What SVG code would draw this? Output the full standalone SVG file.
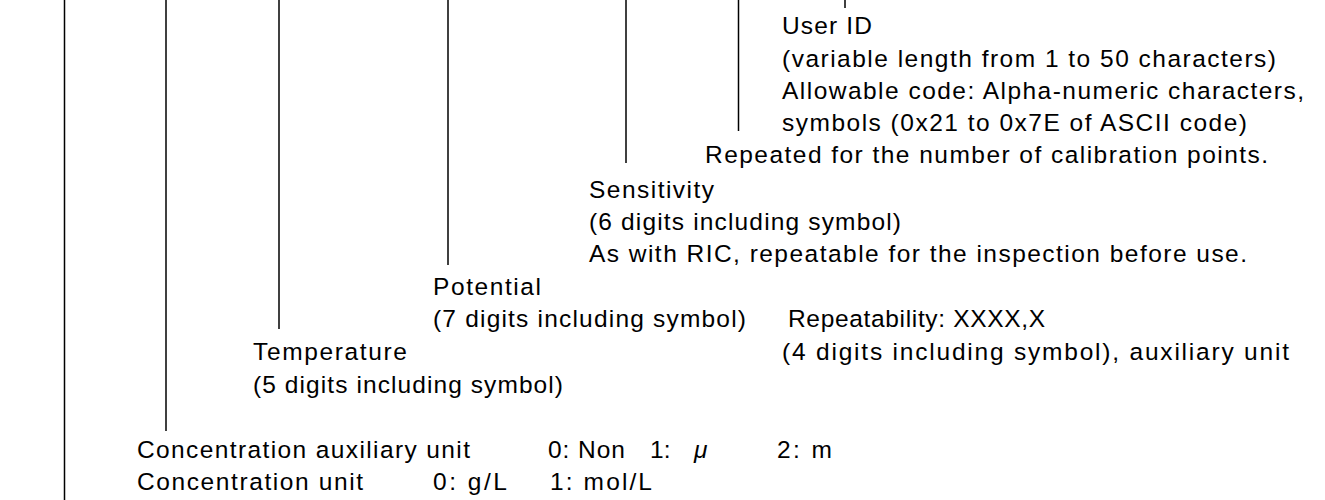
<svg xmlns="http://www.w3.org/2000/svg" width="1325" height="500" viewBox="0 0 1325 500">
<style>
text{font-family:"Liberation Sans","Noto Sans CJK JP",sans-serif;font-size:24.5px;fill:#000}
.ln{stroke:#000;stroke-width:1.5;fill:none}
</style>
<rect width="1325" height="500" fill="#fff"/>
<g id="connectors">
<line class="ln" x1="64.5" y1="0" x2="64.5" y2="500"/>
<line class="ln" x1="166" y1="0" x2="166" y2="431"/>
<line class="ln" x1="279" y1="0" x2="279" y2="329"/>
<line class="ln" x1="448" y1="0" x2="448" y2="265"/>
<line class="ln" x1="626" y1="0" x2="626" y2="163"/>
<line class="ln" x1="738.5" y1="0" x2="738.5" y2="131"/>
<line class="ln" x1="845" y1="0" x2="845" y2="8"/>
</g>
<g id="user-id">
<text x="782" y="34" textLength="90">User ID</text>
<text x="782" y="67" textLength="494">(variable length from 1 to 50 characters)</text>
<text x="782" y="99" textLength="522">Allowable code: Alpha-numeric characters,</text>
<text x="782" y="131" textLength="465">symbols (0x21 to 0x7E of ASCII code)</text>
</g>
<g id="repeat">
<text x="705" y="163" textLength="563">Repeated for the number of calibration points.</text>
</g>
<g id="sensitivity">
<text x="589" y="198" textLength="125">Sensitivity</text>
<text x="589" y="230" textLength="312">(6 digits including symbol)</text>
<text x="589" y="262" textLength="658">As with RIC, repeatable for the inspection before use.</text>
</g>
<g id="potential">
<text x="433" y="295" textLength="108">Potential</text>
<text x="433" y="327" textLength="313">(7 digits including symbol)</text>
</g>
<g id="repeatability">
<text x="788" y="327" textLength="257">Repeatability: XXXX,X</text>
<text x="782" y="360" textLength="507">(4 digits including symbol), auxiliary unit</text>
</g>
<g id="temperature">
<text x="253" y="360" textLength="154">Temperature</text>
<text x="253" y="393" textLength="310">(5 digits including symbol)</text>
</g>
<g id="conc-aux-unit">
<text x="137" y="458" textLength="333">Concentration auxiliary unit</text>
<text x="548" y="458" textLength="77">0: Non</text>
<text x="650" y="458">1:</text>
<text x="694" y="458" font-style="italic">μ</text>
<text x="777" y="458" textLength="55">2: m</text>
</g>
<g id="conc-unit">
<text x="137" y="490" textLength="226">Concentration unit</text>
<text x="433" y="490" textLength="74">0: g/L</text>
<text x="550" y="490" textLength="102">1: mol/L</text>
</g>
</svg>
